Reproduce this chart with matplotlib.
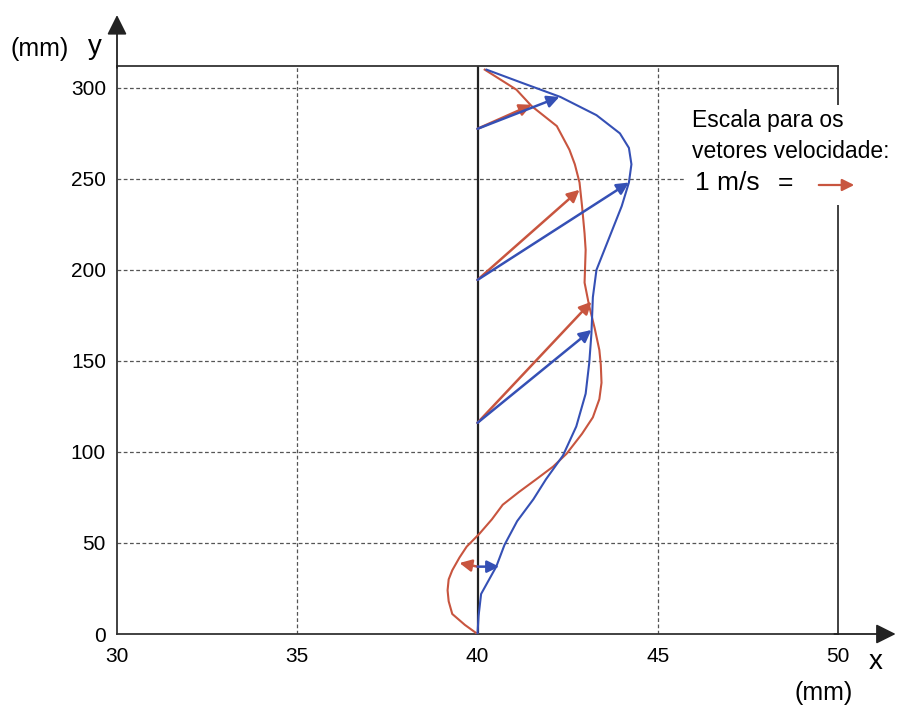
import matplotlib.pyplot as plt
import numpy as np

plt.rcParams['font.family'] = ['Liberation Sans', 'DejaVu Sans']

# perfil azul (x em mm, y em mm)
blue_y = [0, 10, 22, 37, 49, 62, 74, 85, 98, 114, 132, 149, 165, 185, 200, 218, 235, 248, 258, 267, 275, 285, 295, 303, 310]
blue_x = [40.0, 40.03, 40.1, 40.52, 40.75, 41.1, 41.55, 41.9, 42.37, 42.74, 43.0, 43.1, 43.16, 43.2, 43.3, 43.66, 44.0, 44.2, 44.27, 44.2, 43.95, 43.3, 42.3, 41.2, 40.25]

# perfil vermelho
red_y = [0, 5, 11, 18, 24, 30, 35, 42, 48, 55, 63, 71, 78, 85, 92, 99, 110, 119, 129, 138, 148, 156, 168, 180, 193, 211, 220, 235, 248, 258, 266, 279, 290, 299, 305, 310]
red_x = [40.0, 39.65, 39.3, 39.2, 39.17, 39.2, 39.3, 39.5, 39.7, 40.05, 40.4, 40.7, 41.15, 41.63, 42.1, 42.47, 42.9, 43.2, 43.38, 43.44, 43.42, 43.38, 43.25, 43.1, 42.97, 43.0, 42.97, 42.9, 42.83, 42.7, 42.55, 42.2, 41.5, 41.08, 40.6, 40.2]

# vetores velocidade: base em x = 40
vec_base_y = [37, 116, 194.5, 277.5]
red_tip_x = [39.5, 43.16, 42.83, 41.5]
red_tip_y = [39, 182.5, 244, 290.7]
blue_tip_x = [40.6, 43.16, 44.2, 42.27]
blue_tip_y = [37, 167, 248, 295]

y_ticks = [0, 50, 100, 150, 200, 250, 300]
x_ticks = [30, 35, 40, 45, 50]

red = '#c8553f'
blue = '#3550b5'

fig = plt.figure(figsize=(9.01, 7.07), dpi=100)
ax = fig.add_axes([117 / 901, 1 - 634 / 707, (838 - 117) / 901, (634 - 66) / 707])
ax.set_xlim(30, 50)
ax.set_ylim(0, 312)

for s in ['left', 'bottom', 'top', 'right']:
    ax.spines[s].set_color('#333333')
    ax.spines[s].set_linewidth(1.3)

# grade
for xv in [35, 45]:
    ax.axvline(xv, color='#555555', lw=0.9, ls=(0, (3, 2)), zorder=1)
for yv in y_ticks[1:]:
    ax.axhline(yv, color='#555555', lw=0.9, ls=(0, (3, 2)), zorder=1)
ax.axvline(40, color='#222222', lw=1.6, zorder=2)

ax.plot(red_x, red_y, color=red, lw=1.5, zorder=3)
ax.plot(blue_x, blue_y, color=blue, lw=1.5, zorder=3)

for i in range(len(vec_base_y)):
    ax.annotate('', xy=(red_tip_x[i], red_tip_y[i]), xytext=(40, vec_base_y[i]),
                arrowprops=dict(arrowstyle='-|>', color=red, lw=1.8,
                                mutation_scale=18, shrinkA=0, shrinkB=0), zorder=4)
    ax.annotate('', xy=(blue_tip_x[i], blue_tip_y[i]), xytext=(40, vec_base_y[i]),
                arrowprops=dict(arrowstyle='-|>', color=blue, lw=1.8,
                                mutation_scale=18, shrinkA=0, shrinkB=0), zorder=4)

ax.set_xticks(x_ticks)
ax.set_yticks(y_ticks)
ax.tick_params(length=0, labelsize=15)
ax.tick_params(axis='y', pad=8)
ax.tick_params(axis='x', pad=9)

# setas dos eixos
ax.annotate('', xy=(30, 340), xytext=(30, 311), xycoords='data',
            arrowprops=dict(arrowstyle='-|>', color='#222222', lw=1.3,
                            mutation_scale=30, shrinkA=0, shrinkB=0),
            annotation_clip=False)
ax.annotate('', xy=(51.6, 0), xytext=(49.9, 0), xycoords='data',
            arrowprops=dict(arrowstyle='-|>', color='#222222', lw=1.3,
                            mutation_scale=30, shrinkA=0, shrinkB=0),
            annotation_clip=False)

fig.text(11 / 901, 1 - 49 / 707, '(mm)', fontsize=18, va='center', ha='left')
fig.text(88 / 901, 1 - 47 / 707, 'y', fontsize=20, va='center', ha='left')
fig.text(869 / 901, 1 - 662 / 707, 'x', fontsize=20, va='center', ha='left')
fig.text(795 / 901, 1 - 693 / 707, '(mm)', fontsize=18, va='center', ha='left')

# escala dos vetores
fig.patches.append(plt.Rectangle((686 / 901, 1 - 205 / 707), 215 / 901, 100 / 707,
                                 transform=fig.transFigure, facecolor='white',
                                 edgecolor='none', zorder=5))
fig.text(692 / 901, 1 - 120 / 707, 'Escala para os', fontsize=16.5, va='center', zorder=6)
fig.text(692 / 901, 1 - 151 / 707, 'vetores velocidade:', fontsize=16.5, va='center', zorder=6)
fig.text(695 / 901, 1 - 183 / 707, '1 m/s', fontsize=19, va='center', zorder=6)
fig.text(778 / 901, 1 - 183 / 707, '=', fontsize=19, va='center', zorder=6)
fig.add_artist(plt.matplotlib.patches.FancyArrowPatch(
    (816 / 901, 1 - 185 / 707), (857 / 901, 1 - 185 / 707), transform=fig.transFigure,
    arrowstyle='-|>', color=red, lw=1.6, mutation_scale=18, zorder=7))

fig.savefig('out.png', dpi=100)
